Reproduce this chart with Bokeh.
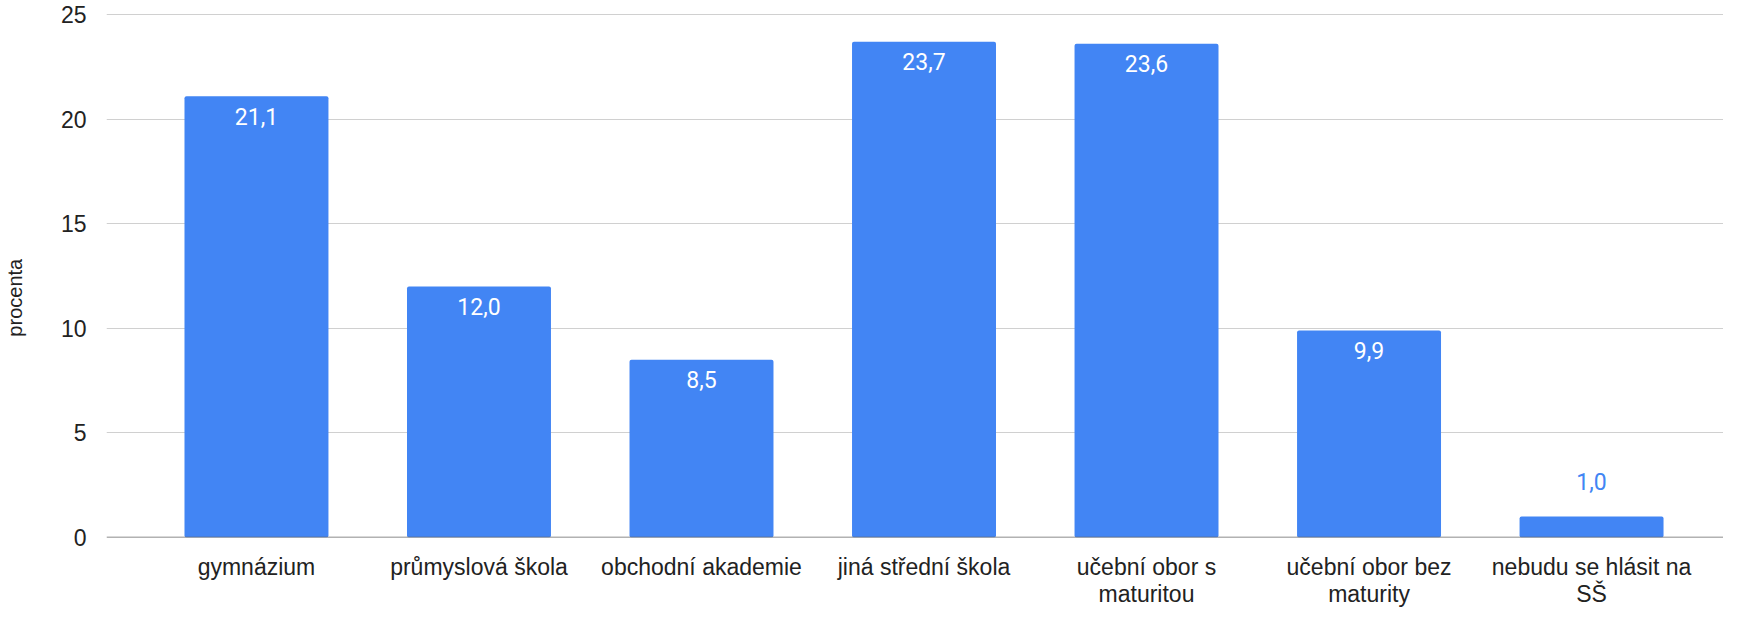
from bokeh.plotting import figure
from bokeh.models import ColumnDataSource, Range1d, Span, FixedTicker
from bokeh.core.properties import value
from bokeh.embed import file_html
from bokeh.resources import INLINE

categories = ["gymnázium", "průmyslová škola", "obchodní akademie", "jiná střední škola",
              "učební obor s\nmaturitou", "učební obor bez\nmaturity", "nebudu se hlásit na\nSŠ"]
values = [21.1, 12.0, 8.5, 23.7, 23.6, 9.9, 1.0]
labels = ["21,1", "12,0", "8,5", "23,7", "23,6", "9,9", "1,0"]
y_ticks = [0, 5, 10, 15, 20, 25]
y_title = "procenta"

BLUE = "#4285F4"
TXT = "#222222"

xpos = [i + 0.5 for i in range(len(categories))]
inside = [i for i, v in enumerate(values) if v >= 3]
outside = [i for i, v in enumerate(values) if v < 3]

src = ColumnDataSource(dict(x=xpos, top=values))
src_in = ColumnDataSource(dict(x=[xpos[i] for i in inside], y=[values[i] for i in inside],
                               t=[labels[i] for i in inside]))
src_out = ColumnDataSource(dict(x=[xpos[i] for i in outside], y=[values[i] for i in outside],
                                t=[labels[i] for i in outside]))

p = figure(x_range=Range1d(-0.174, 7.093), y_range=Range1d(0, 25.05), width=1723, height=609,
           output_backend="svg", toolbar_location=None,
           min_border_left=106, min_border_right=0, min_border_top=13, min_border_bottom=50)
p.outline_line_color = None

p.vbar(x="x", top="top", width=0.647, source=src, color=BLUE, line_color=None, border_radius=2)

p.text(x="x", y="y", text="t", source=src_in, text_color="white", text_align="center",
       text_baseline="middle", y_offset=20, text_font=value("Roboto"), text_font_size="23px")
p.text(x="x", y="y", text="t", source=src_out, text_color=BLUE, text_align="center",
       text_baseline="middle", y_offset=-35, text_font=value("Roboto"), text_font_size="23px")

p.add_layout(Span(location=0, dimension="width", line_color="#666666", line_width=1.5))

p.yaxis.ticker = FixedTicker(ticks=y_ticks)
p.yaxis.axis_line_color = None
p.yaxis.major_tick_line_color = None
p.yaxis.minor_tick_line_color = None
p.yaxis.major_label_text_font = "Liberation Sans"
p.yaxis.major_label_text_font_size = "23px"
p.yaxis.major_label_text_color = TXT
p.yaxis.major_label_standoff = 14
p.yaxis.axis_label = y_title + "\u00a0" * 8
p.yaxis.axis_label_text_font = "Liberation Sans"
p.yaxis.axis_label_text_font_size = "20px"
p.yaxis.axis_label_text_font_style = "normal"
p.yaxis.axis_label_text_color = TXT
p.yaxis.axis_label_standoff = 32

p.xaxis.ticker = FixedTicker(ticks=xpos, minor_ticks=[])
p.xaxis.major_label_overrides = {x: c for x, c in zip(xpos, categories)}
p.xaxis.axis_line_color = None
p.xaxis.major_tick_line_color = None
p.xaxis.minor_tick_line_color = None
p.xaxis.major_label_text_font = "Liberation Sans"
p.xaxis.major_label_text_font_size = "23px"
p.xaxis.major_label_text_color = TXT
p.xaxis.major_label_text_line_height = 1.05
p.xaxis.major_label_standoff = 10
p.xaxis.major_label_orientation = "horizontal"

p.xgrid.grid_line_color = None
p.ygrid.grid_line_color = "#d0d0d0"
p.ygrid.grid_line_width = 1

open("out.html", "w").write(file_html(p, INLINE))
